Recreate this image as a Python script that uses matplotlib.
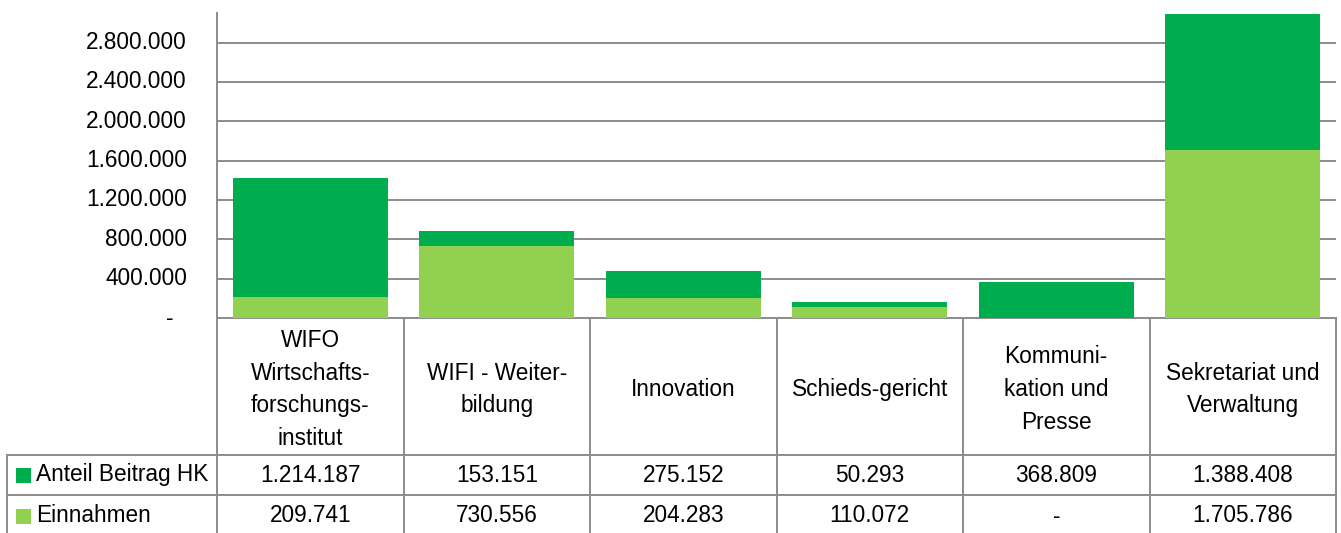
import matplotlib
matplotlib.use("Agg")
import matplotlib.pyplot as plt
from matplotlib.transforms import blended_transform_factory
from matplotlib.patches import Rectangle

plt.rcParams['font.family'] = ['Liberation Sans', 'DejaVu Sans']

categories = ["WIFO\nWirtschafts-\nforschungs-\ninstitut", "WIFI - Weiter-\nbildung", "Innovation",
              "Schieds-gericht", "Kommuni-\nkation und\nPresse", "Sekretariat und\nVerwaltung"]
series_names = ["Anteil Beitrag HK", "Einnahmen"]
anteil = [1214187, 153151, 275152, 50293, 368809, 1388408]
einnahmen = [209741, 730556, 204283, 110072, 0, 1705786]
yticks = [0, 400000, 800000, 1200000, 1600000, 2000000, 2400000, 2800000]

C_DARK = "#00AD4E"
C_LIGHT = "#92D050"
GRID = "#8C8C8C"
FS = 16.3
LS = 1.55

def fmt(v):
    return "-" if v == 0 else f"{v:,.0f}".replace(",", ".")

W, H = 1341, 533
fig = plt.figure(figsize=(W / 100, H / 100), dpi=100)
ax = fig.add_axes([217 / W, (H - 318) / H, (1336 - 217) / W, (318 - 13) / H])

x = list(range(len(categories)))
ax.bar(x, einnahmen, width=0.83, color=C_LIGHT, zorder=3)
ax.bar(x, anteil, width=0.83, bottom=einnahmen, color=C_DARK, zorder=3)

ax.set_xlim(-0.5, len(categories) - 0.5)
ax.set_ylim(0, 3100000)
ax.set_yticks(yticks)
ax.set_yticklabels([])
ax.tick_params(axis='y', length=0)
ax.set_xticks([])
ax.grid(axis='y', color=GRID, lw=1.4, zorder=0)
for s in ['top', 'right']:
    ax.spines[s].set_visible(False)
for s in ['left', 'bottom']:
    ax.spines[s].set_color(GRID)
    ax.spines[s].set_linewidth(1.4)

# y tick labels
ytr = blended_transform_factory(fig.transFigure, ax.transData)
for v in yticks:
    if v == 0:
        ax.text(170 / W, v, "-", transform=ytr, ha='center', va='center', fontsize=FS, clip_on=False)
    else:
        ax.text(187 / W, v, fmt(v), transform=ytr, ha='right', va='center', fontsize=FS, clip_on=False)

# table
def fy(py):
    return (H - py) / H

dtr = blended_transform_factory(ax.transData, fig.transFigure)
ft = fig.transFigure
lw = 1.4
for i in range(len(categories) + 1):
    xb = i - 0.5
    ax.plot([xb, xb], [fy(318), fy(533)], transform=dtr, color=GRID, lw=lw, clip_on=False, zorder=5)
for py in [455, 495]:
    ax.plot([7 / W, 1336 / W], [fy(py), fy(py)], transform=ft, color=GRID, lw=lw, clip_on=False)
ax.plot([7 / W, 7 / W], [fy(455), fy(533)], transform=ft, color=GRID, lw=lw, clip_on=False)

for i, c in enumerate(categories):
    ax.text(i, fy((318 + 455) / 2 + 3), c, transform=dtr, ha='center', va='center',
            fontsize=FS, linespacing=LS, clip_on=False)

rows = [anteil, einnahmen]
colors = [C_DARK, C_LIGHT]
centers = [475, 516]
for vals, name, col, cy in zip(rows, series_names, colors, centers):
    fig.patches.append(Rectangle((16 / W, fy(cy + 7.5)), 15 / W, 15 / H, transform=ft,
                                 facecolor=col, edgecolor='none'))
    fig.text(36 / W, fy(cy), name, ha='left', va='center', fontsize=FS)
    for i, v in enumerate(vals):
        ax.text(i, fy(cy), fmt(v), transform=dtr, ha='center', va='center', fontsize=FS, clip_on=False)

fig.savefig("out.png", dpi=100)
